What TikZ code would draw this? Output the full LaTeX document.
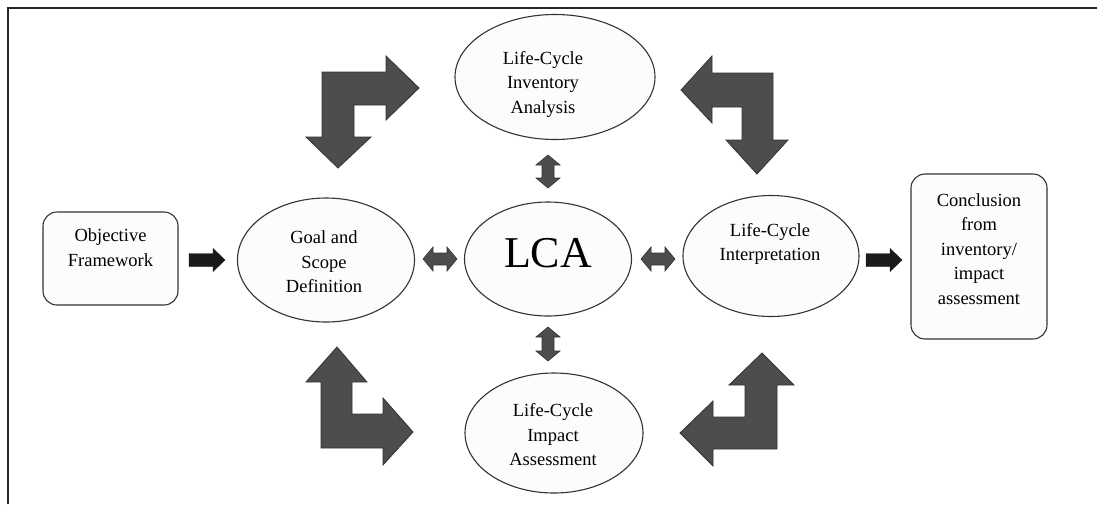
\documentclass[tikz,border=0pt]{standalone}
\usepackage{fontspec}
\setmainfont{Liberation Serif}
\usetikzlibrary{shapes.geometric}
\definecolor{bord}{HTML}{333333}
\definecolor{arrfill}{HTML}{4D4D4D}
\definecolor{blk}{HTML}{1A1A1A}
\tikzset{
  oval/.style={ellipse, draw=bord, line width=1.1pt, fill=black!1, inner sep=0pt},
  rbox/.style={rectangle, rounded corners=14pt, draw=bord, line width=1.1pt, fill=black!1, inner sep=0pt},
  lbl/.style={align=center, font=\fontsize{18.5}{24.5}\selectfont, inner sep=0pt},
  bent/.style={fill=arrfill, draw=bord, line width=0.8pt, line join=miter},
  dbl/.style={fill=arrfill, draw=bord, line width=0.6pt},
  sgl/.style={fill=blk, draw=blk, line width=0.4pt},
}
\newcommand{\dblH}[3]{\filldraw[dbl] (#1,#3) -- (#1+10,#3-12) -- (#1+10,#3-6) -- (#2-10,#3-6) -- (#2-10,#3-12) -- (#2,#3) -- (#2-10,#3+12) -- (#2-10,#3+6) -- (#1+10,#3+6) -- (#1+10,#3+12) -- cycle;}
\newcommand{\dblV}[3]{\filldraw[dbl] (#1,#2) -- (#1+12,#2+10) -- (#1+6,#2+10) -- (#1+6,#3-10) -- (#1+12,#3-10) -- (#1,#3) -- (#1-12,#3-10) -- (#1-6,#3-10) -- (#1-6,#2+10) -- (#1-12,#2+10) -- cycle;}
\newcommand{\sglH}[3]{\filldraw[sgl] (#1,#3-6.5) -- (#2-12,#3-6.5) -- (#2-12,#3-11.5) -- (#2,#3) -- (#2-12,#3+11.5) -- (#2-12,#3+6.5) -- (#1,#3+6.5) -- cycle;}
\begin{document}
\begin{tikzpicture}[x=1pt,y=-1pt]
\useasboundingbox (0,0) rectangle (1097,504);
% frame
\draw[line width=2pt, draw=black!85] (8,504) -- (8,8) -- (1097,8);

% boxes
\node[rbox, minimum width=135pt, minimum height=93pt] (obj) at (110.5,258.5) {};
\node[lbl] (objt) at (110.5,247.5) {Objective\\Framework};
\node[rbox, minimum width=136pt, minimum height=165pt] (concl) at (979,256.5) {};
\node[lbl] (conclt) at (979,249) {Conclusion\\from\\inventory/\\impact\\assessment};

% ellipses
\node[oval, minimum width=177pt, minimum height=124pt] (goal) at (326,260) {};
\node[lbl] (goalt) at (324,262) {Goal and\\Scope\\Definition};
\node[oval, minimum width=167pt, minimum height=114pt] (lca) at (548,259) {};
\node[font=\fontsize{44}{50}\selectfont, inner sep=0pt] (lcat) at (548,253) {LCA};
\node[oval, minimum width=176pt, minimum height=121pt] (interp) at (771,256) {};
\node[lbl] (interpt) at (770,244) {Life-Cycle\\Interpretation};
\node[oval, minimum width=200pt, minimum height=125pt] (inv) at (555,77) {};
\node[lbl] (invt) at (543,84) {Life-Cycle\\Inventory\\Analysis};
\node[oval, minimum width=178pt, minimum height=120pt] (imp) at (554,433) {};
\node[lbl] (impt) at (553,435) {Life-Cycle\\Impact\\Assessment};

% straight black arrows
\sglH{189}{225}{260}
\sglH{866}{902}{260}

% double arrows
\dblH{423}{457}{259}
\dblH{641}{675}{259}
\dblV{548}{155}{188}
\dblV{548}{327}{361}

% bent arrows
\filldraw[bent] (322,72) -- (386,72) -- (386,56) -- (419,88) -- (386,120) -- (386,105) -- (354,105) -- (354,137) -- (371,137) -- (338,168) -- (306,137) -- (322,137) -- cycle;
\filldraw[bent] (773,73) -- (712,73) -- (712,56) -- (681,90) -- (712,123) -- (712,107) -- (742,107) -- (742,140) -- (726,140) -- (757,174) -- (788,140) -- (773,140) -- cycle;
\filldraw[bent] (321,448) -- (321,382) -- (306,382) -- (337,347) -- (367,382) -- (352,382) -- (352,414) -- (383,414) -- (383,398) -- (413,432) -- (383,465) -- (383,448) -- cycle;
\filldraw[bent] (777,449) -- (777,385) -- (794,385) -- (762,353) -- (729,385) -- (745,385) -- (745,417) -- (713,417) -- (713,401) -- (680,433) -- (713,466) -- (713,449) -- cycle;
\end{tikzpicture}
\end{document}
